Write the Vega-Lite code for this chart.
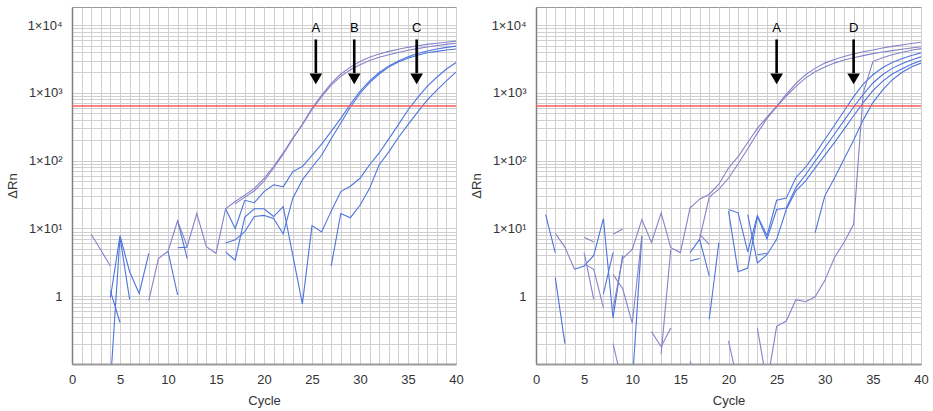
{
  "$schema": "https://vega.github.io/schema/vega-lite/v6.json",
  "padding": {"left": 5, "top": 6, "right": 5, "bottom": 2},
  "autosize": {"type": "pad"},
  "spacing": 5,
  "config": {
    "font": "Liberation Sans",
    "view": {"stroke": "#9a9a9a", "strokeWidth": 1},
    "axis": {"labelFont": "Liberation Sans", "titleFont": "Liberation Sans", "labelFontSize": 13, "labelColor": "#333333", "titleFontSize": 13, "titleFontWeight": "normal", "titleColor": "#333333", "grid": true, "gridColor": "#cfcfcf", "ticks": false, "labelOverlap": false},
    "axisX": {"domainColor": "#9a9a9a", "domainWidth": 2, "labelPadding": 9, "titlePadding": 8, "labelFlush": false},
    "axisY": {"domainColor": "#808080", "domainWidth": 1.5, "labelPadding": 10, "titlePadding": 8}
  },
  "datasets": {
    "leftPurple": [
      {"trace":"A1","cycle":8,"dRn":0.86},{"trace":"A1","cycle":9,"dRn":3.6},{"trace":"A1","cycle":10,"dRn":4.6},{"trace":"A1","cycle":11,"dRn":13},{"trace":"A1","cycle":12,"dRn":5.4},{"trace":"A1","cycle":13,"dRn":16.6},{"trace":"A1","cycle":14,"dRn":5.4},{"trace":"A1","cycle":15,"dRn":4.3},{"trace":"A1","cycle":16,"dRn":19.5},{"trace":"A1","cycle":17,"dRn":25},{"trace":"A1","cycle":18,"dRn":31},{"trace":"A1","cycle":19,"dRn":39},{"trace":"A1","cycle":20,"dRn":55},{"trace":"A1","cycle":21,"dRn":82},{"trace":"A1","cycle":22,"dRn":130},{"trace":"A1","cycle":23,"dRn":215},{"trace":"A1","cycle":24,"dRn":340},{"trace":"A1","cycle":25,"dRn":570},{"trace":"A1","cycle":26,"dRn":880},{"trace":"A1","cycle":27,"dRn":1300},{"trace":"A1","cycle":28,"dRn":1750},{"trace":"A1","cycle":29,"dRn":2200},{"trace":"A1","cycle":30,"dRn":2600},{"trace":"A1","cycle":31,"dRn":3000},{"trace":"A1","cycle":32,"dRn":3350},{"trace":"A1","cycle":33,"dRn":3650},{"trace":"A1","cycle":34,"dRn":3950},{"trace":"A1","cycle":35,"dRn":4250},{"trace":"A1","cycle":36,"dRn":4500},{"trace":"A1","cycle":37,"dRn":4750},{"trace":"A1","cycle":38,"dRn":5000},{"trace":"A1","cycle":39,"dRn":5200},{"trace":"A1","cycle":40,"dRn":5400},
      {"trace":"A2","cycle":17,"dRn":23},{"trace":"A2","cycle":18,"dRn":29},{"trace":"A2","cycle":19,"dRn":36},{"trace":"A2","cycle":20,"dRn":50},{"trace":"A2","cycle":21,"dRn":78},{"trace":"A2","cycle":22,"dRn":125},{"trace":"A2","cycle":23,"dRn":210},{"trace":"A2","cycle":24,"dRn":345},{"trace":"A2","cycle":25,"dRn":590},{"trace":"A2","cycle":26,"dRn":920},{"trace":"A2","cycle":27,"dRn":1380},{"trace":"A2","cycle":28,"dRn":1900},{"trace":"A2","cycle":29,"dRn":2400},{"trace":"A2","cycle":30,"dRn":2900},{"trace":"A2","cycle":31,"dRn":3350},{"trace":"A2","cycle":32,"dRn":3750},{"trace":"A2","cycle":33,"dRn":4100},{"trace":"A2","cycle":34,"dRn":4400},{"trace":"A2","cycle":35,"dRn":4700},{"trace":"A2","cycle":36,"dRn":4950},{"trace":"A2","cycle":37,"dRn":5200},{"trace":"A2","cycle":38,"dRn":5400},{"trace":"A2","cycle":39,"dRn":5600},{"trace":"A2","cycle":40,"dRn":5800},
      {"trace":"n1","cycle":2,"dRn":8.2},{"trace":"n1","cycle":3,"dRn":4.8},{"trace":"n1","cycle":4,"dRn":2.8}
    ],
    "leftBlue": [
      {"trace":"B1","cycle":16,"dRn":19.5},{"trace":"B1","cycle":17,"dRn":10},{"trace":"B1","cycle":18,"dRn":26},{"trace":"B1","cycle":19,"dRn":24},{"trace":"B1","cycle":20,"dRn":35},{"trace":"B1","cycle":21,"dRn":44},{"trace":"B1","cycle":22,"dRn":41},{"trace":"B1","cycle":23,"dRn":69},{"trace":"B1","cycle":24,"dRn":82},{"trace":"B1","cycle":25,"dRn":120},{"trace":"B1","cycle":26,"dRn":175},{"trace":"B1","cycle":27,"dRn":270},{"trace":"B1","cycle":28,"dRn":420},{"trace":"B1","cycle":29,"dRn":680},{"trace":"B1","cycle":30,"dRn":1050},{"trace":"B1","cycle":31,"dRn":1500},{"trace":"B1","cycle":32,"dRn":2000},{"trace":"B1","cycle":33,"dRn":2500},{"trace":"B1","cycle":34,"dRn":2950},{"trace":"B1","cycle":35,"dRn":3400},{"trace":"B1","cycle":36,"dRn":3800},{"trace":"B1","cycle":37,"dRn":4150},{"trace":"B1","cycle":38,"dRn":4450},{"trace":"B1","cycle":39,"dRn":4700},{"trace":"B1","cycle":40,"dRn":4900},
      {"trace":"B2","cycle":16,"dRn":6.1},{"trace":"B2","cycle":17,"dRn":6.8},{"trace":"B2","cycle":18,"dRn":9},{"trace":"B2","cycle":19,"dRn":15},{"trace":"B2","cycle":20,"dRn":15.6},{"trace":"B2","cycle":21,"dRn":14},{"trace":"B2","cycle":22,"dRn":8.3},{"trace":"B2","cycle":23,"dRn":28},{"trace":"B2","cycle":24,"dRn":52},{"trace":"B2","cycle":25,"dRn":80},{"trace":"B2","cycle":26,"dRn":120},{"trace":"B2","cycle":27,"dRn":210},{"trace":"B2","cycle":28,"dRn":360},{"trace":"B2","cycle":29,"dRn":620},{"trace":"B2","cycle":30,"dRn":980},{"trace":"B2","cycle":31,"dRn":1420},{"trace":"B2","cycle":32,"dRn":1900},{"trace":"B2","cycle":33,"dRn":2400},{"trace":"B2","cycle":34,"dRn":2850},{"trace":"B2","cycle":35,"dRn":3250},{"trace":"B2","cycle":36,"dRn":3600},{"trace":"B2","cycle":37,"dRn":3900},{"trace":"B2","cycle":38,"dRn":4100},{"trace":"B2","cycle":39,"dRn":4300},{"trace":"B2","cycle":40,"dRn":4450},
      {"trace":"C1","cycle":16,"dRn":4.5},{"trace":"C1","cycle":17,"dRn":3.4},{"trace":"C1","cycle":18,"dRn":14.7},{"trace":"C1","cycle":19,"dRn":19.5},{"trace":"C1","cycle":20,"dRn":19.5},{"trace":"C1","cycle":21,"dRn":15},{"trace":"C1","cycle":22,"dRn":21},{"trace":"C1","cycle":23,"dRn":4},{"trace":"C1","cycle":24,"dRn":0.77},{"trace":"C1","cycle":25,"dRn":11},{"trace":"C1","cycle":26,"dRn":8.9},{"trace":"C1","cycle":27,"dRn":18},{"trace":"C1","cycle":28,"dRn":35},{"trace":"C1","cycle":29,"dRn":42},{"trace":"C1","cycle":30,"dRn":55},{"trace":"C1","cycle":31,"dRn":87},{"trace":"C1","cycle":32,"dRn":130},{"trace":"C1","cycle":33,"dRn":210},{"trace":"C1","cycle":34,"dRn":340},{"trace":"C1","cycle":35,"dRn":560},{"trace":"C1","cycle":36,"dRn":850},{"trace":"C1","cycle":37,"dRn":1250},{"trace":"C1","cycle":38,"dRn":1700},{"trace":"C1","cycle":39,"dRn":2250},{"trace":"C1","cycle":40,"dRn":2800},
      {"trace":"C2","cycle":27,"dRn":2.8},{"trace":"C2","cycle":28,"dRn":16.6},{"trace":"C2","cycle":29,"dRn":14.4},{"trace":"C2","cycle":30,"dRn":22},{"trace":"C2","cycle":31,"dRn":39},{"trace":"C2","cycle":32,"dRn":87},{"trace":"C2","cycle":33,"dRn":135},{"trace":"C2","cycle":34,"dRn":220},{"trace":"C2","cycle":35,"dRn":340},{"trace":"C2","cycle":36,"dRn":520},{"trace":"C2","cycle":37,"dRn":780},{"trace":"C2","cycle":38,"dRn":1100},{"trace":"C2","cycle":39,"dRn":1500},{"trace":"C2","cycle":40,"dRn":2030},
      {"trace":"n2","cycle":4,"dRn":0.05},{"trace":"n2","cycle":5,"dRn":7.5},{"trace":"n2","cycle":6,"dRn":0.9},
      {"trace":"n3","cycle":4,"dRn":0.95},{"trace":"n3","cycle":5,"dRn":7.8},{"trace":"n3","cycle":6,"dRn":2.3},{"trace":"n3","cycle":7,"dRn":1.1},{"trace":"n3","cycle":8,"dRn":4.3},
      {"trace":"n4","cycle":4,"dRn":1.2},{"trace":"n4","cycle":5,"dRn":0.41},
      {"trace":"n5","cycle":10,"dRn":4.6},{"trace":"n5","cycle":11,"dRn":1.05},
      {"trace":"n6","cycle":11,"dRn":13},{"trace":"n6","cycle":12,"dRn":3.6},
      {"trace":"n7","cycle":11,"dRn":5.2},{"trace":"n7","cycle":12,"dRn":5.3}
    ],
    "rightPurple": [
      {"trace":"A1","cycle":8,"dRn":0.65},{"trace":"A1","cycle":9,"dRn":3.6},{"trace":"A1","cycle":10,"dRn":4.9},{"trace":"A1","cycle":11,"dRn":13.5},{"trace":"A1","cycle":12,"dRn":6.2},{"trace":"A1","cycle":13,"dRn":17},{"trace":"A1","cycle":14,"dRn":5.2},{"trace":"A1","cycle":15,"dRn":4.4},{"trace":"A1","cycle":16,"dRn":20},{"trace":"A1","cycle":17,"dRn":27},{"trace":"A1","cycle":18,"dRn":32},{"trace":"A1","cycle":19,"dRn":45},{"trace":"A1","cycle":20,"dRn":78},{"trace":"A1","cycle":21,"dRn":115},{"trace":"A1","cycle":22,"dRn":185},{"trace":"A1","cycle":23,"dRn":300},{"trace":"A1","cycle":24,"dRn":440},{"trace":"A1","cycle":25,"dRn":640},{"trace":"A1","cycle":26,"dRn":950},{"trace":"A1","cycle":27,"dRn":1380},{"trace":"A1","cycle":28,"dRn":1850},{"trace":"A1","cycle":29,"dRn":2300},{"trace":"A1","cycle":30,"dRn":2750},{"trace":"A1","cycle":31,"dRn":3100},{"trace":"A1","cycle":32,"dRn":3450},{"trace":"A1","cycle":33,"dRn":3750},{"trace":"A1","cycle":34,"dRn":4050},{"trace":"A1","cycle":35,"dRn":4300},{"trace":"A1","cycle":36,"dRn":4600},{"trace":"A1","cycle":37,"dRn":4850},{"trace":"A1","cycle":38,"dRn":5100},{"trace":"A1","cycle":39,"dRn":5350},{"trace":"A1","cycle":40,"dRn":5600},
      {"trace":"A2","cycle":17,"dRn":7},{"trace":"A2","cycle":18,"dRn":29},{"trace":"A2","cycle":19,"dRn":38},{"trace":"A2","cycle":20,"dRn":55},{"trace":"A2","cycle":21,"dRn":90},{"trace":"A2","cycle":22,"dRn":150},{"trace":"A2","cycle":23,"dRn":255},{"trace":"A2","cycle":24,"dRn":420},{"trace":"A2","cycle":25,"dRn":620},{"trace":"A2","cycle":26,"dRn":900},{"trace":"A2","cycle":27,"dRn":1250},{"trace":"A2","cycle":28,"dRn":1650},{"trace":"A2","cycle":29,"dRn":2050},{"trace":"A2","cycle":30,"dRn":2400},{"trace":"A2","cycle":31,"dRn":2750},{"trace":"A2","cycle":32,"dRn":3050},{"trace":"A2","cycle":33,"dRn":3300},{"trace":"A2","cycle":34,"dRn":3550},{"trace":"A2","cycle":35,"dRn":3800},{"trace":"A2","cycle":36,"dRn":4000},{"trace":"A2","cycle":37,"dRn":4200},{"trace":"A2","cycle":38,"dRn":4400},{"trace":"A2","cycle":39,"dRn":4600},{"trace":"A2","cycle":40,"dRn":4800},
      {"trace":"P","cycle":24,"dRn":0.05},{"trace":"P","cycle":25,"dRn":0.36},{"trace":"P","cycle":26,"dRn":0.43},{"trace":"P","cycle":27,"dRn":0.89},{"trace":"P","cycle":28,"dRn":0.83},{"trace":"P","cycle":29,"dRn":0.98},{"trace":"P","cycle":30,"dRn":1.7},{"trace":"P","cycle":31,"dRn":3.7},{"trace":"P","cycle":32,"dRn":6.2},{"trace":"P","cycle":33,"dRn":11.5},{"trace":"P","cycle":34,"dRn":1000},{"trace":"P","cycle":35,"dRn":2900},{"trace":"P","cycle":36,"dRn":3300},{"trace":"P","cycle":37,"dRn":3650},{"trace":"P","cycle":38,"dRn":3950},{"trace":"P","cycle":39,"dRn":4250},{"trace":"P","cycle":40,"dRn":4500},
      {"trace":"n2","cycle":2,"dRn":8.5},{"trace":"n2","cycle":3,"dRn":5.3},{"trace":"n2","cycle":4,"dRn":2.5},
      {"trace":"n5","cycle":5,"dRn":7.4},{"trace":"n5","cycle":6,"dRn":6.3},
      {"trace":"n6","cycle":5,"dRn":4.4},{"trace":"n6","cycle":6,"dRn":0.9},
      {"trace":"n7","cycle":5,"dRn":3},{"trace":"n7","cycle":6,"dRn":2.5},{"trace":"n7","cycle":7,"dRn":0.68},
      {"trace":"n9","cycle":8,"dRn":8.2},{"trace":"n9","cycle":9,"dRn":9.8},
      {"trace":"n10","cycle":8,"dRn":2.1},{"trace":"n10","cycle":9,"dRn":1.3},{"trace":"n10","cycle":10,"dRn":0.4},{"trace":"n10","cycle":11,"dRn":7.7},
      {"trace":"n11","cycle":8,"dRn":0.2},{"trace":"n11","cycle":9,"dRn":0.05},
      {"trace":"n13","cycle":12,"dRn":0.3},{"trace":"n13","cycle":13,"dRn":0.18},{"trace":"n13","cycle":14,"dRn":0.34},
      {"trace":"n14","cycle":13,"dRn":0.14},{"trace":"n14","cycle":14,"dRn":4.9},
      {"trace":"n15","cycle":16,"dRn":0.11},{"trace":"n15","cycle":17,"dRn":0.05},
      {"trace":"n18","cycle":17,"dRn":8.2},{"trace":"n18","cycle":18,"dRn":5.8},
      {"trace":"n20","cycle":20,"dRn":0.22},{"trace":"n20","cycle":21,"dRn":0.05},
      {"trace":"n21","cycle":23,"dRn":0.34},{"trace":"n21","cycle":24,"dRn":0.05}
    ],
    "rightBlue": [
      {"trace":"D1","cycle":20,"dRn":19},{"trace":"D1","cycle":21,"dRn":17},{"trace":"D1","cycle":22,"dRn":4.5},{"trace":"D1","cycle":23,"dRn":15.5},{"trace":"D1","cycle":24,"dRn":7.8},{"trace":"D1","cycle":25,"dRn":26},{"trace":"D1","cycle":26,"dRn":28},{"trace":"D1","cycle":27,"dRn":56},{"trace":"D1","cycle":28,"dRn":80},{"trace":"D1","cycle":29,"dRn":125},{"trace":"D1","cycle":30,"dRn":205},{"trace":"D1","cycle":31,"dRn":330},{"trace":"D1","cycle":32,"dRn":540},{"trace":"D1","cycle":33,"dRn":880},{"trace":"D1","cycle":34,"dRn":1350},{"trace":"D1","cycle":35,"dRn":1850},{"trace":"D1","cycle":36,"dRn":2350},{"trace":"D1","cycle":37,"dRn":2800},{"trace":"D1","cycle":38,"dRn":3200},{"trace":"D1","cycle":39,"dRn":3550},{"trace":"D1","cycle":40,"dRn":3900},
      {"trace":"D2","cycle":20,"dRn":18},{"trace":"D2","cycle":21,"dRn":2.3},{"trace":"D2","cycle":22,"dRn":2.6},{"trace":"D2","cycle":23,"dRn":15},{"trace":"D2","cycle":24,"dRn":7},{"trace":"D2","cycle":25,"dRn":19},{"trace":"D2","cycle":26,"dRn":20},{"trace":"D2","cycle":27,"dRn":40},{"trace":"D2","cycle":28,"dRn":62},{"trace":"D2","cycle":29,"dRn":98},{"trace":"D2","cycle":30,"dRn":155},{"trace":"D2","cycle":31,"dRn":245},{"trace":"D2","cycle":32,"dRn":390},{"trace":"D2","cycle":33,"dRn":620},{"trace":"D2","cycle":34,"dRn":950},{"trace":"D2","cycle":35,"dRn":1400},{"trace":"D2","cycle":36,"dRn":1850},{"trace":"D2","cycle":37,"dRn":2300},{"trace":"D2","cycle":38,"dRn":2700},{"trace":"D2","cycle":39,"dRn":3050},{"trace":"D2","cycle":40,"dRn":3400},
      {"trace":"D3","cycle":22,"dRn":16},{"trace":"D3","cycle":23,"dRn":3.1},{"trace":"D3","cycle":24,"dRn":4.1},{"trace":"D3","cycle":25,"dRn":6.9},{"trace":"D3","cycle":26,"dRn":19},{"trace":"D3","cycle":27,"dRn":36},{"trace":"D3","cycle":28,"dRn":50},{"trace":"D3","cycle":29,"dRn":78},{"trace":"D3","cycle":30,"dRn":120},{"trace":"D3","cycle":31,"dRn":185},{"trace":"D3","cycle":32,"dRn":290},{"trace":"D3","cycle":33,"dRn":460},{"trace":"D3","cycle":34,"dRn":720},{"trace":"D3","cycle":35,"dRn":1080},{"trace":"D3","cycle":36,"dRn":1480},{"trace":"D3","cycle":37,"dRn":1900},{"trace":"D3","cycle":38,"dRn":2250},{"trace":"D3","cycle":39,"dRn":2650},{"trace":"D3","cycle":40,"dRn":3000},
      {"trace":"D4","cycle":29,"dRn":8.7},{"trace":"D4","cycle":30,"dRn":30},{"trace":"D4","cycle":31,"dRn":55},{"trace":"D4","cycle":32,"dRn":105},{"trace":"D4","cycle":33,"dRn":200},{"trace":"D4","cycle":34,"dRn":400},{"trace":"D4","cycle":35,"dRn":720},{"trace":"D4","cycle":36,"dRn":1100},{"trace":"D4","cycle":37,"dRn":1550},{"trace":"D4","cycle":38,"dRn":2000},{"trace":"D4","cycle":39,"dRn":2400},{"trace":"D4","cycle":40,"dRn":2750},
      {"trace":"n1","cycle":1,"dRn":16},{"trace":"n1","cycle":2,"dRn":4.4},
      {"trace":"n3","cycle":4,"dRn":2.5},{"trace":"n3","cycle":5,"dRn":2.8},{"trace":"n3","cycle":6,"dRn":4},{"trace":"n3","cycle":7,"dRn":14},{"trace":"n3","cycle":8,"dRn":0.48},{"trace":"n3","cycle":9,"dRn":4},
      {"trace":"n4","cycle":2,"dRn":1.9},{"trace":"n4","cycle":3,"dRn":0.2},
      {"trace":"n8","cycle":7,"dRn":1.07},{"trace":"n8","cycle":8,"dRn":4.4},
      {"trace":"n12","cycle":10,"dRn":0.05},{"trace":"n12","cycle":11,"dRn":7.7},
      {"trace":"n16","cycle":16,"dRn":4.4},{"trace":"n16","cycle":17,"dRn":6.9},{"trace":"n16","cycle":18,"dRn":2.0},
      {"trace":"n17","cycle":16,"dRn":3.3},{"trace":"n17","cycle":17,"dRn":3.6},
      {"trace":"n19","cycle":18,"dRn":0.46},{"trace":"n19","cycle":19,"dRn":6.2},
      {"trace":"n22","cycle":23,"dRn":4.1},{"trace":"n22","cycle":24,"dRn":4.3}
    ],
    "leftArrows": [{"label":"A","cycle":25.4},{"label":"B","cycle":29.4},{"label":"C","cycle":35.9}],
    "rightArrows": [{"label":"A","cycle":25.0},{"label":"D","cycle":33.0}]
  },
  "hconcat": [
    {
      "width": 384, "height": 357,
      "encoding": {
        "x": {"field": "cycle", "type": "quantitative", "title": "Cycle", "scale": {"domain": [0, 40], "nice": false, "zero": false},
          "axis": {"values": [0,1,2,3,4,5,6,7,8,9,10,11,12,13,14,15,16,17,18,19,20,21,22,23,24,25,26,27,28,29,30,31,32,33,34,35,36,37,38,39,40],
            "labelExpr": "datum.value % 5 === 0 ? datum.label : ''", "labelOverlap": false, "labelFlush": false}}
      },
      "layer": [
        {
          "data": {"name": "leftBlue"},
          "mark": {"type": "line", "color": "#4d74e0", "strokeWidth": 1.1, "clip": true},
          "encoding": {
            "y": {"field": "dRn", "type": "quantitative", "title": "ΔRn", "scale": {"type": "log", "domain": [0.1, 18500], "nice": false},
              "axis": {"values": [0.1,0.2,0.3,0.4,0.5,0.6,0.7,0.8,0.9,1,2,3,4,5,6,7,8,9,10,20,30,40,50,60,70,80,90,100,200,300,400,500,600,700,800,900,1000,2000,3000,4000,5000,6000,7000,8000,9000,10000],
                "labelExpr": "datum.value === 1 ? '1' : datum.value === 10 ? '1×10¹' : datum.value === 100 ? '1×10²' : datum.value === 1000 ? '1×10³' : datum.value === 10000 ? '1×10⁴' : ''", "labelOverlap": false}},
            "detail": {"field": "trace"}, "order": {"field": "cycle"}}
        },
        {
          "data": {"name": "leftPurple"},
          "mark": {"type": "line", "color": "#8682c9", "strokeWidth": 1.1, "clip": true},
          "encoding": {
            "y": {"field": "dRn", "type": "quantitative", "title": "ΔRn", "scale": {"type": "log", "domain": [0.1, 18500], "nice": false},
              "axis": {"values": [0.1,0.2,0.3,0.4,0.5,0.6,0.7,0.8,0.9,1,2,3,4,5,6,7,8,9,10,20,30,40,50,60,70,80,90,100,200,300,400,500,600,700,800,900,1000,2000,3000,4000,5000,6000,7000,8000,9000,10000],
                "labelExpr": "datum.value === 1 ? '1' : datum.value === 10 ? '1×10¹' : datum.value === 100 ? '1×10²' : datum.value === 1000 ? '1×10³' : datum.value === 10000 ? '1×10⁴' : ''", "labelOverlap": false}},
            "detail": {"field": "trace"}, "order": {"field": "cycle"}}
        },
        {
          "data": {"values": [{"label": "threshold", "cycle": 0, "cycleEnd": 40}]},
          "mark": {"type": "rule", "color": "#ff5a5a", "strokeWidth": 1.3},
          "encoding": {"x2": {"field": "cycleEnd"}, "y": {"datum": 640, "type": "quantitative", "title": "ΔRn"}}
        },
        {
          "data": {"name": "leftArrows"},
          "mark": {"type": "rule", "color": "#000000", "strokeWidth": 2.6},
          "encoding": {"y": {"datum": 6140, "type": "quantitative", "title": "ΔRn"}, "y2": {"datum": 1960}}
        },
        {
          "data": {"name": "leftArrows"},
          "mark": {"type": "point", "shape": "triangle-down", "filled": true, "color": "#000000", "size": 160, "opacity": 1},
          "encoding": {"y": {"datum": 1610, "type": "quantitative", "title": "ΔRn"}}
        },
        {
          "data": {"name": "leftArrows"},
          "mark": {"type": "text", "color": "#000000", "fontSize": 13, "baseline": "middle", "align": "center"},
          "encoding": {"y": {"datum": 8940, "type": "quantitative", "title": "ΔRn"}, "text": {"field": "label"}}
        }
      ]
    },
    {
      "width": 385, "height": 357,
      "encoding": {
        "x": {"field": "cycle", "type": "quantitative", "title": "Cycle", "scale": {"domain": [0, 40], "nice": false, "zero": false},
          "axis": {"values": [0,1,2,3,4,5,6,7,8,9,10,11,12,13,14,15,16,17,18,19,20,21,22,23,24,25,26,27,28,29,30,31,32,33,34,35,36,37,38,39,40],
            "labelExpr": "datum.value % 5 === 0 ? datum.label : ''", "labelOverlap": false, "labelFlush": false}}
      },
      "layer": [
        {
          "data": {"name": "rightBlue"},
          "mark": {"type": "line", "color": "#4d74e0", "strokeWidth": 1.1, "clip": true},
          "encoding": {
            "y": {"field": "dRn", "type": "quantitative", "title": "ΔRn", "scale": {"type": "log", "domain": [0.1, 18500], "nice": false},
              "axis": {"values": [0.1,0.2,0.3,0.4,0.5,0.6,0.7,0.8,0.9,1,2,3,4,5,6,7,8,9,10,20,30,40,50,60,70,80,90,100,200,300,400,500,600,700,800,900,1000,2000,3000,4000,5000,6000,7000,8000,9000,10000],
                "labelExpr": "datum.value === 1 ? '1' : datum.value === 10 ? '1×10¹' : datum.value === 100 ? '1×10²' : datum.value === 1000 ? '1×10³' : datum.value === 10000 ? '1×10⁴' : ''", "labelOverlap": false}},
            "detail": {"field": "trace"}, "order": {"field": "cycle"}}
        },
        {
          "data": {"name": "rightPurple"},
          "mark": {"type": "line", "color": "#8682c9", "strokeWidth": 1.1, "clip": true},
          "encoding": {
            "y": {"field": "dRn", "type": "quantitative", "title": "ΔRn", "scale": {"type": "log", "domain": [0.1, 18500], "nice": false},
              "axis": {"values": [0.1,0.2,0.3,0.4,0.5,0.6,0.7,0.8,0.9,1,2,3,4,5,6,7,8,9,10,20,30,40,50,60,70,80,90,100,200,300,400,500,600,700,800,900,1000,2000,3000,4000,5000,6000,7000,8000,9000,10000],
                "labelExpr": "datum.value === 1 ? '1' : datum.value === 10 ? '1×10¹' : datum.value === 100 ? '1×10²' : datum.value === 1000 ? '1×10³' : datum.value === 10000 ? '1×10⁴' : ''", "labelOverlap": false}},
            "detail": {"field": "trace"}, "order": {"field": "cycle"}}
        },
        {
          "data": {"values": [{"label": "threshold", "cycle": 0, "cycleEnd": 40}]},
          "mark": {"type": "rule", "color": "#ff5a5a", "strokeWidth": 1.3},
          "encoding": {"x2": {"field": "cycleEnd"}, "y": {"datum": 640, "type": "quantitative", "title": "ΔRn"}}
        },
        {
          "data": {"name": "rightArrows"},
          "mark": {"type": "rule", "color": "#000000", "strokeWidth": 2.6},
          "encoding": {"y": {"datum": 6140, "type": "quantitative", "title": "ΔRn"}, "y2": {"datum": 1960}}
        },
        {
          "data": {"name": "rightArrows"},
          "mark": {"type": "point", "shape": "triangle-down", "filled": true, "color": "#000000", "size": 160, "opacity": 1},
          "encoding": {"y": {"datum": 1610, "type": "quantitative", "title": "ΔRn"}}
        },
        {
          "data": {"name": "rightArrows"},
          "mark": {"type": "text", "color": "#000000", "fontSize": 13, "baseline": "middle", "align": "center"},
          "encoding": {"y": {"datum": 8940, "type": "quantitative", "title": "ΔRn"}, "text": {"field": "label"}}
        }
      ]
    }
  ]
}
